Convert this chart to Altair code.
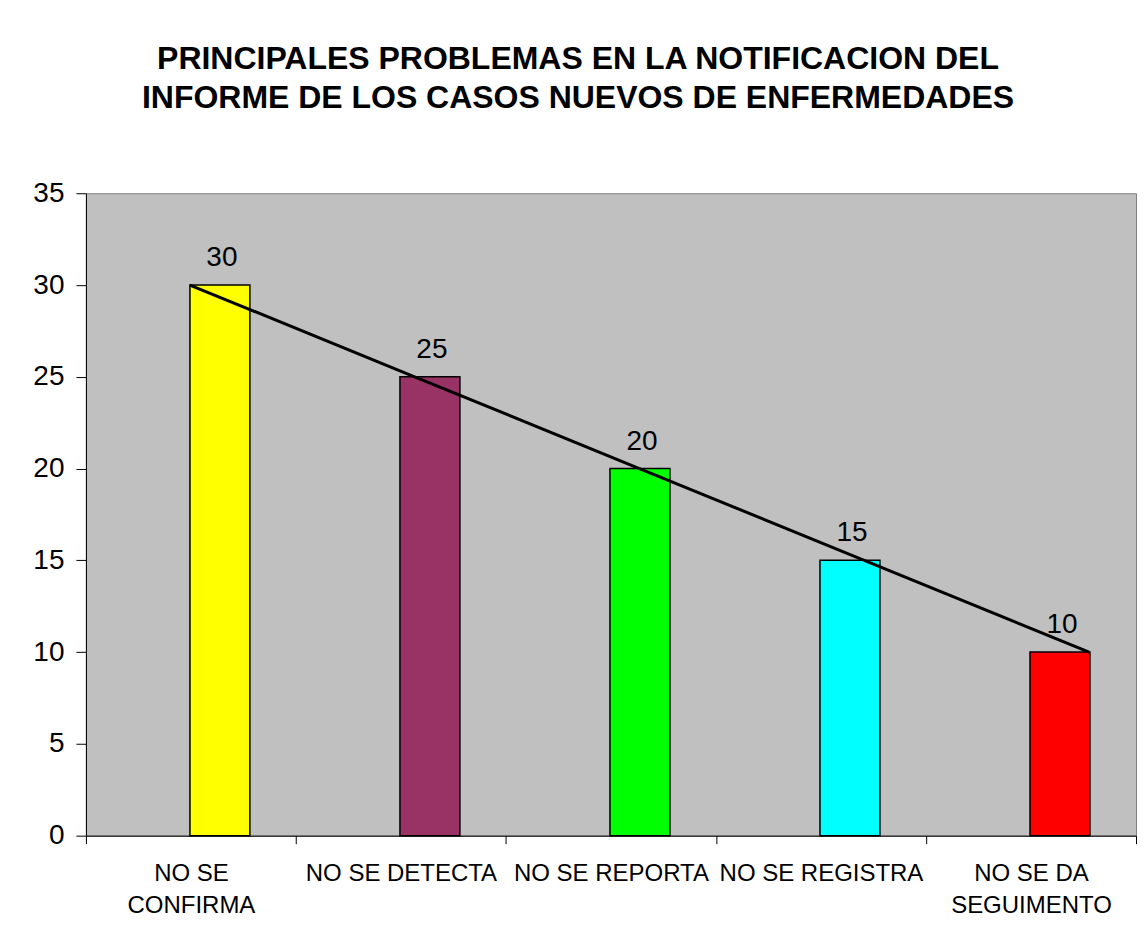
import altair as alt
import pandas as pd

# ---- data ----
categories = ["NO SE|CONFIRMA", "NO SE DETECTA", "NO SE REPORTA", "NO SE REGISTRA", "NO SE DA|SEGUIMENTO"]
values = [30, 25, 20, 15, 10]
bar_colors = ["#FFFF00", "#993366", "#00FF00", "#00FFFF", "#FF0000"]
trend_index = [1, 2, 3, 4, 5]
trend_values = [30, 25, 20, 15, 10]
y_ticks = [0, 5, 10, 15, 20, 25, 30, 35]
title_lines = ["PRINCIPALES PROBLEMAS EN LA NOTIFICACION DEL",
               "INFORME DE LOS CASOS NUEVOS DE ENFERMEDADES"]

df = pd.DataFrame({"cat": categories, "val": values})
trend = pd.DataFrame({"idx": trend_index, "val": trend_values})

FONT = "Liberation Sans"
W, H = 1051, 643

xscale = alt.Scale(paddingInner=0, paddingOuter=0)
xenc = alt.X("cat:N", sort=categories, title=None, scale=xscale,
             axis=alt.Axis(labelExpr="split(datum.label, '|')", labelAngle=0,
                           labelFont=FONT, labelFontSize=24, labelLineHeight=32,
                           labelColor="black", labelPadding=18, labelLimit=0,
                           tickBand="extent", tickSize=8, tickColor="black",
                           domainColor="black", labelBaseline="top"))
yscale = alt.Scale(domain=[0, 35], nice=False)
yaxis = alt.Axis(values=y_ticks, grid=False, labelFont=FONT,
                 labelFontSize=28, labelColor="black", labelPadding=12,
                 tickSize=10, tickColor="black", domainColor="black")
yenc = alt.Y("val:Q", title=None, scale=yscale, axis=yaxis)

bars = alt.Chart(df).mark_bar(width=60, xOffset=29, stroke="black", strokeWidth=1.5).encode(
    x=xenc, y=yenc,
    color=alt.Color("cat:N", sort=categories,
                    scale=alt.Scale(domain=categories, range=bar_colors), legend=None),
)

labels = alt.Chart(df).mark_text(xOffset=31, dy=-19, baseline="alphabetic", font=FONT,
                                 fontSize=28, color="black").encode(
    x=alt.X("cat:N", sort=categories, scale=xscale, axis=None),
    y=alt.Y("val:Q", scale=yscale, axis=yaxis, title=None),
    text=alt.Text("val:Q"),
)

# trend line: from the top-left corner of the first bar to the top-right of the last
px_per_unit = 225.0
lo = 1 - 104 / px_per_unit
hi = lo + W / px_per_unit
line = alt.Chart(trend).mark_line(color="black", strokeWidth=3).encode(
    x=alt.X("idx:Q", scale=alt.Scale(domain=[lo, hi], nice=False, zero=False), axis=None),
    y=alt.Y("val:Q", scale=yscale, axis=yaxis, title=None),
)

chart = alt.layer(bars, line, labels).resolve_scale(x="independent").properties(
    width=W, height=H,
    background="white",
    padding={"left": 24, "top": 35, "right": 0, "bottom": 5},
    title=alt.TitleParams(text=title_lines, font=FONT, fontSize=32, fontWeight="bold",
                          lineHeight=39, color="black", anchor="middle", frame="group",
                          dx=-33, offset=64),
).configure_view(fill="#C0C0C0", stroke="#808080", strokeWidth=1)

chart.save("out.html", embed_options={"renderer": "svg", "actions": False})
